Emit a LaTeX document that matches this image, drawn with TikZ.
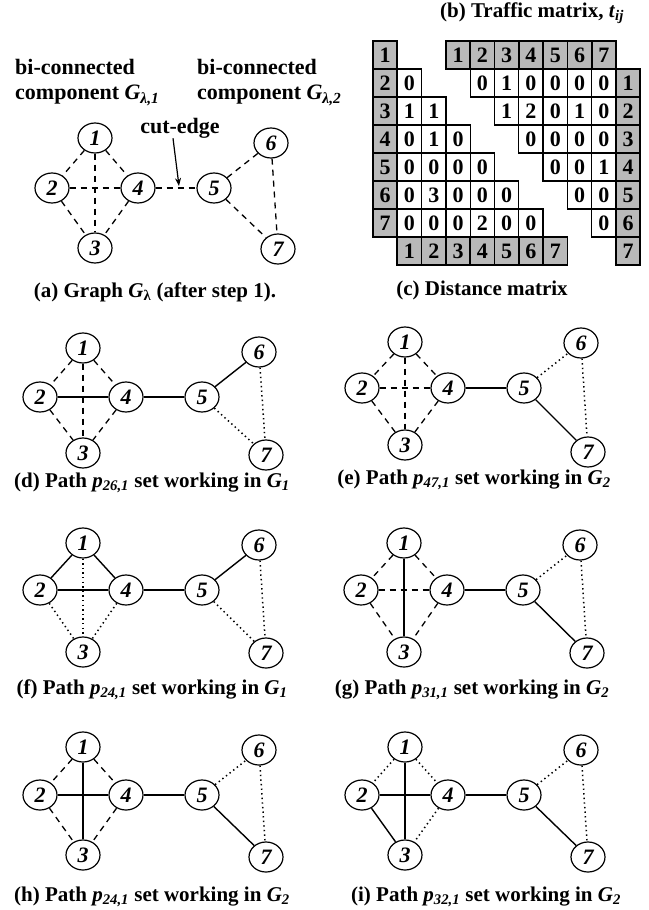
\documentclass[tikz,border=0pt]{standalone}
\usepackage{fontspec}
\setmainfont{Liberation Serif}
\usetikzlibrary{shapes.geometric,arrows.meta}
\newcommand\gph[6]{%
 \begin{scope}[shift={(#2,#3)}]
 \node[vtx] (#1-2) at (0,0) {2};
 \node[vtx] (#1-1) at (43,#4) {1};
 \node[vtx] (#1-4) at (86,0) {4};
 \node[vtx] (#1-3) at (43,#5) {3};
 \node[vtx] (#1-5) at (162,0) {5};
 \node[vtx] (#1-6) at (219,-45) {6};
 \node[vtx] (#1-7) at (226,#6) {7};
 \draw[e12] (#1-1) -- (#1-2);
 \draw[e14] (#1-1) -- (#1-4);
 \draw[e13] (#1-1) -- (#1-3);
 \draw[e24] (#1-2) -- (#1-4);
 \draw[e23] (#1-2) -- (#1-3);
 \draw[e34] (#1-4) -- (#1-3);
 \draw[e45] (#1-4) -- (#1-5);
 \draw[e56] (#1-5) -- (#1-6);
 \draw[e57] (#1-5) -- (#1-7);
 \draw[e67] (#1-6) -- (#1-7);
 \end{scope}}
\newcommand\es[9]{\tikzset{e12/.style={#1},e14/.style={#2},e13/.style={#3},e24/.style={#4},e23/.style={#5},e34/.style={#6},e45/.style={#7},e56/.style={#8},e57/.style={#9}}}
\newcommand\lrow[2]{\foreach \cv [count=\cm] in {#2} {\node[cell] (lo-#1-\cm) at ({373+24.3*(\cm+0.5)},{41+28*(#1+0.5)}) {\cv};}}
\newcommand\urow[2]{\foreach \cv [count=\cm] in {#2} {\node[cell] (up-#1-\cm) at ({373+24.3*(#1+2+\cm+0.5)},{41+28*(#1+0.5)}) {\cv};}}
\begin{document}
\begin{tikzpicture}[x=1pt,y=-1pt,
 vtx/.style={ellipse,draw,line width=1.2pt,minimum width=34pt,minimum height=30pt,inner sep=0pt,font=\fontsize{22}{22}\selectfont\bfseries\itshape},
 sol/.style={solid,line width=1.4pt},
 dsh/.style={line width=1.3pt,dash pattern=on 6pt off 5pt},
 dtt/.style={line width=1.5pt,dash pattern=on 1.4pt off 3.2pt},
 captxt/.style={font=\fontsize{21}{24}\selectfont\bfseries,inner sep=0pt},
 lbl/.style={font=\fontsize{22}{25}\selectfont\bfseries,align=left,inner sep=0pt},
 cell/.style={draw,line width=1.3pt,minimum width=24.3pt,minimum height=28pt,inner sep=0pt,font=\fontsize{22}{22}\selectfont\bfseries},
 hdr/.style={cell,fill=gray!55,line width=1.7pt},
 e67/.style={dtt}]
\useasboundingbox (0,0) rectangle (648,910);
\fill[white] (0,0) rectangle (648,910);
% ---- (a)
\node[lbl,anchor=west] (bc1) at (15,82.5) {bi-connected\\component \textit{G}\textsubscript{\textit{λ,1}}};
\node[lbl,anchor=west] (bc2) at (197,82.5) {bi-connected\\component \textit{G}\textsubscript{\textit{λ,2}}};
\es{dsh}{dsh}{dsh}{dsh}{dsh}{dsh}{dsh}{dsh}{dsh}
\tikzset{e67/.style={dsh}}
\gph{a}{52}{188}{-50}{60}{61}
\tikzset{e67/.style={dtt}}
\node[lbl] (cut) at (180,128) {cut-edge};
\coordinate (cutp) at (179,186);
\draw[line width=1.2pt,-{Stealth[length=8pt,width=6pt]}] ([xshift=-7pt]cut.south) -- (cutp);
\node[captxt] (capa) at (155,292) {(a) Graph \textit{G}\textsubscript{λ} (after step 1).};
% ---- matrix
\node[captxt] (capb) at (532,13) {(b) Traffic matrix, \textit{t}\textsubscript{\textit{ij}}};
\node[captxt] (capc) at (482,290) {(c) Distance matrix};
\foreach \lab [count=\i from 0] in {1,...,7} \node[hdr] (lh-\lab) at (385.15,{41+28*(\i+0.5)}) {\lab};
\foreach \lab [count=\i] in {1,...,7} \node[hdr] (bh-\lab) at ({373+24.3*(\i+0.5)},251) {\lab};
\foreach \lab [count=\i from 3] in {1,...,7} \node[hdr] (th-\lab) at ({373+24.3*(\i+0.5)},55) {\lab};
\foreach \lab [count=\i] in {1,...,7} \node[hdr] (rh-\lab) at ({373+24.3*10.5},{41+28*(\i+0.5)}) {\lab};
\lrow{1}{0}
\lrow{2}{1,1}
\lrow{3}{0,1,0}
\lrow{4}{0,0,0,0}
\lrow{5}{0,3,0,0,0}
\lrow{6}{0,0,0,2,0,0}
\urow{1}{0,1,0,0,0,0}
\urow{2}{1,2,0,1,0}
\urow{3}{0,0,0,0}
\urow{4}{0,0,1}
\urow{5}{0,0}
\urow{6}{0}
% ---- (d)
\es{dsh}{dsh}{dsh}{sol}{dsh}{dsh}{sol}{sol}{dtt}
\gph{d}{40}{397}{-49}{56}{58}
\node[captxt] (capd) at (152,483) {(d) Path \textit{p}\textsubscript{\textit{26,1}} set working in \textit{G}\textsubscript{\textit{1}}};
% ---- (e)
\es{dsh}{dsh}{dsh}{dsh}{dsh}{dsh}{sol}{dtt}{sol}
\gph{e}{362}{388}{-46}{57}{64}
\node[captxt] (cape) at (474,480) {(e) Path \textit{p}\textsubscript{\textit{47,1}} set working in \textit{G}\textsubscript{\textit{2}}};
% ---- (f)
\es{sol}{sol}{dtt}{sol}{dtt}{dtt}{sol}{sol}{dtt}
\gph{f}{40}{590}{-47}{62}{63}
\node[captxt] (capf) at (152,690) {(f) Path \textit{p}\textsubscript{\textit{24,1}} set working in \textit{G}\textsubscript{\textit{1}}};
% ---- (g)
\es{dsh}{dsh}{sol}{dsh}{dsh}{dsh}{sol}{dtt}{sol}
\gph{g}{361}{590}{-47}{62}{63}
\node[captxt] (capg) at (472,690) {(g) Path \textit{p}\textsubscript{\textit{31,1}} set working in \textit{G}\textsubscript{\textit{2}}};
% ---- (h)
\es{dsh}{dsh}{sol}{sol}{dsh}{dsh}{sol}{dtt}{sol}
\gph{h}{40}{795}{-48}{60}{62}
\node[captxt] (caph) at (152,897) {(h) Path \textit{p}\textsubscript{\textit{24,1}} set working in \textit{G}\textsubscript{\textit{2}}};
% ---- (i)
\es{dtt}{dtt}{sol}{sol}{sol}{dtt}{sol}{dtt}{sol}
\gph{i}{362}{795}{-48}{60}{62}
\node[captxt] (capi) at (486,897) {(i) Path \textit{p}\textsubscript{\textit{32,1}} set working in \textit{G}\textsubscript{\textit{2}}};
\end{tikzpicture}
\end{document}
